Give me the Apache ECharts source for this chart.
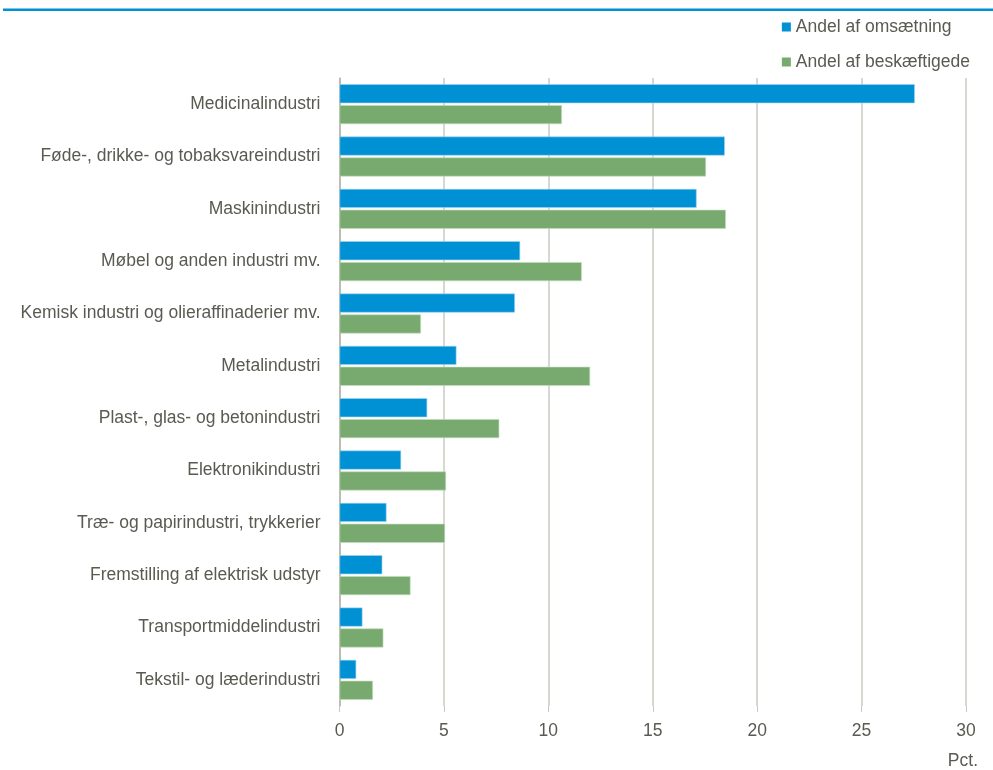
<!DOCTYPE html>
<html><head><meta charset="utf-8">
<script src="https://cdn.jsdelivr.net/npm/echarts@6/dist/echarts.min.js"></script>
<style>html,body{margin:0;padding:0;background:#fff}#c{width:993px;height:770px}</style>
</head><body><div id="c"></div>
<script>
const categories = ["Medicinalindustri","Føde-, drikke- og tobaksvareindustri","Maskinindustri","Møbel og anden industri mv.","Kemisk industri og olieraffinaderier mv.","Metalindustri","Plast-, glas- og betonindustri","Elektronikindustri","Træ- og papirindustri, trykkerier","Fremstilling af elektrisk udstyr","Transportmiddelindustri","Tekstil- og læderindustri"];
const omsaetning = [27.55, 18.45, 17.1, 8.65, 8.4, 5.6, 4.2, 2.95, 2.25, 2.05, 1.1, 0.8];
const beskaeftigede = [10.65, 17.55, 18.5, 11.6, 3.9, 12.0, 7.65, 5.1, 5.05, 3.4, 2.1, 1.6];
const xTicks = [0,5,10,15,20,25,30];

const font = "'Liberation Sans',Arial,sans-serif";
const txt = '#5a5a52';
const chart = echarts.init(document.getElementById('c'), null, {renderer:'canvas'});
chart.setOption({
  animation:false,
  graphic:[{type:'rect', shape:{x:3,y:8.5,width:990,height:2.5}, style:{fill:'#0090d4'}}],
  legend:{
    orient:'vertical', right:18, top:13, itemWidth:9, itemHeight:9, itemGap:17,
    icon:'rect',
    itemStyle:{borderWidth:0},
    textStyle:{fontFamily:font, fontSize:17.5, color:txt},
    data:['Andel af omsætning','Andel af beskæftigede']
  },
  grid:{left:339.5, right:27, top:78, bottom:64},
  xAxis:{
    type:'value', min:0, max:30, interval:5,
    name:'Pct.', nameLocation:'end', nameGap:0,
    nameTextStyle:{fontFamily:font, fontSize:17.5, color:txt, align:'right', verticalAlign:'top', padding:[46,-12,0,0]},
    axisLine:{show:false},
    axisTick:{show:true, length:6, lineStyle:{color:'#c9c9c1'}},
    axisLabel:{fontFamily:font, fontSize:17.5, color:txt, margin:16, formatter:v=>xTicks.includes(v)?String(v):''},
    splitLine:{show:true, lineStyle:{color:'#cbcbc3', width:1.5}}
  },
  yAxis:{
    type:'category', data:categories, inverse:true,
    axisLine:{show:true, lineStyle:{color:'#b5b5a8', width:1.5}},
    axisTick:{show:false},
    axisLabel:{fontFamily:font, fontSize:17.5, color:txt, margin:19}
  },
  series:[
    {name:'Andel af omsætning', type:'bar', data:omsaetning, barWidth:19, barGap:'10%',
     itemStyle:{color:'#0090d4', borderColor:'#9fd4f0', borderWidth:0.6}},
    {name:'Andel af beskæftigede', type:'bar', data:beskaeftigede, barWidth:19, barGap:'10%',
     itemStyle:{color:'#78aa6f', borderColor:'#c5dcc0', borderWidth:0.6}}
  ]
});
</script></body></html>
